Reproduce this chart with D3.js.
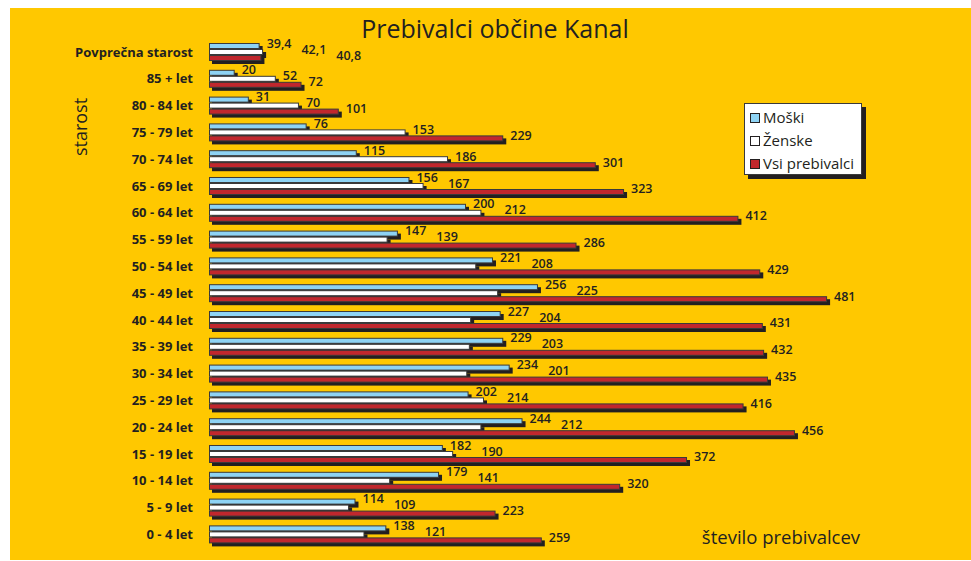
<!DOCTYPE html>
<html>
<head>
<meta charset="utf-8">
<script src="https://cdn.jsdelivr.net/npm/d3@7"></script>
<style>
  body { margin: 0; background: #fff; }
  text { font-family: "Open Sans", "Noto Sans", sans-serif; fill: #231f20; }
</style>
</head>
<body>
<div id="chart"></div>
<script>
// data, top row first
var categories = ["Povprečna starost", "85 + let", "80 - 84 let", "75 - 79 let", "70 - 74 let",
    "65 - 69 let", "60 - 64 let", "55 - 59 let", "50 - 54 let", "45 - 49 let", "40 - 44 let",
    "35 - 39 let", "30 - 34 let", "25 - 29 let", "20 - 24 let", "15 - 19 let", "10 - 14 let",
    "5 - 9 let", "0 - 4 let"];
var moski  = [39.4, 20, 31, 76, 115, 156, 200, 147, 221, 256, 227, 229, 234, 202, 244, 182, 179, 114, 138];
var zenske = [42.1, 52, 70, 153, 186, 167, 212, 139, 208, 225, 204, 203, 201, 214, 212, 190, 141, 109, 121];
var vsi    = [40.8, 72, 101, 229, 301, 323, 412, 286, 429, 481, 431, 432, 435, 416, 456, 372, 320, 223, 259];
var seriesNames = ["Moški", "Ženske", "Vsi prebivalci"];

document.addEventListener("DOMContentLoaded", function() {
    var w = 971, h = 561;
    var colors = ["#8ed3f4", "#ffffff", "#c1272d"];
    var series = [moski, zenske, vsi];

    var svg = d3.select("#chart").append("svg")
        .attr("width", w)
        .attr("height", h);

    svg.append("rect")
        .attr("x", 10).attr("y", 8)
        .attr("width", w - 10).attr("height", 552)
        .attr("fill", "#ffc800");

    var x = d3.scaleLinear().domain([0, 500]).range([209, 851.5]);
    var y = d3.scaleBand().domain(categories).range([43, 543.4])
        .paddingInner(0.328).paddingOuter(0);
    var ySub = d3.scaleBand().domain([0, 1, 2]).range([0, y.bandwidth()]);

    var fmt = function(v) { return String(v).replace(".", ","); };

    // category labels
    svg.append("g").selectAll("text")
        .data(categories)
        .enter().append("text")
        .attr("x", 193)
        .attr("y", function(d) { return y(d) + y.bandwidth() / 2; })
        .attr("dy", "0.35em")
        .attr("text-anchor", "end")
        .style("font-size", "13px")
        .style("font-weight", "bold")
        .text(function(d) { return d; });

    // bars, one group per category
    var groups = svg.append("g").selectAll("g")
        .data(categories)
        .enter().append("g")
        .attr("transform", function(d) { return "translate(0," + y(d) + ")"; });

    groups.each(function(cat, ci) {
        var g = d3.select(this);
        var prevRight = null;
        series.forEach(function(s, si) {
            var v = s[ci];
            var by = ySub(si), bh = ySub.bandwidth();
            g.append("rect") // shadow
                .attr("x", x(0) + 3).attr("y", by + 3)
                .attr("width", x(v) - x(0)).attr("height", bh)
                .attr("fill", "#231f20");
            g.append("rect")
                .attr("x", x(0) + 0.5).attr("y", by + 0.5)
                .attr("width", x(v) - x(0) - 1).attr("height", bh - 1)
                .attr("fill", colors[si])
                .attr("stroke", "#3a3a3a")
                .attr("stroke-width", 1);

            // push a label right if it would run into the one above
            var lx = x(v) + 7;
            if (prevRight !== null && lx < prevRight + 10) lx = prevRight + 10;
            var t = g.append("text")
                .attr("x", lx)
                .attr("y", by + bh / 2 + 1.5)
                .style("font-size", "12.5px")
                .style("font-weight", "600")
                .text(fmt(v));
            prevRight = lx + t.node().getComputedTextLength();
        });
    });

    // title and axis names
    svg.append("text")
        .attr("x", 495).attr("y", 38)
        .attr("text-anchor", "middle")
        .style("font-size", "25px")
        .text("Prebivalci občine Kanal");

    svg.append("text")
        .attr("transform", "translate(87,127) rotate(-90)")
        .attr("text-anchor", "middle")
        .style("font-size", "18px")
        .text("starost");

    svg.append("text")
        .attr("x", 781).attr("y", 544)
        .attr("text-anchor", "middle")
        .style("font-size", "18.5px")
        .text("število prebivalcev");

    // legend
    var lg = svg.append("g").attr("transform", "translate(744,103)");
    lg.append("rect").attr("x", 4).attr("y", 4).attr("width", 118).attr("height", 72).attr("fill", "#231f20");
    lg.append("rect").attr("x", 0.5).attr("y", 0.5).attr("width", 117).attr("height", 71)
        .attr("fill", "#fff").attr("stroke", "#3a3a3a");
    var items = lg.selectAll(".item")
        .data(seriesNames)
        .enter().append("g")
        .attr("transform", function(d, i) { return "translate(6," + (15 + i * 23) + ")"; });
    items.append("rect")
        .attr("x", 0.5).attr("y", -4.5)
        .attr("width", 9).attr("height", 9)
        .attr("fill", function(d, i) { return colors[i]; })
        .attr("stroke", "#231f20");
    items.append("text")
        .attr("x", 13).attr("dy", "0.35em")
        .style("font-size", "15px")
        .text(function(d) { return d; });
});
</script>
</body>
</html>
